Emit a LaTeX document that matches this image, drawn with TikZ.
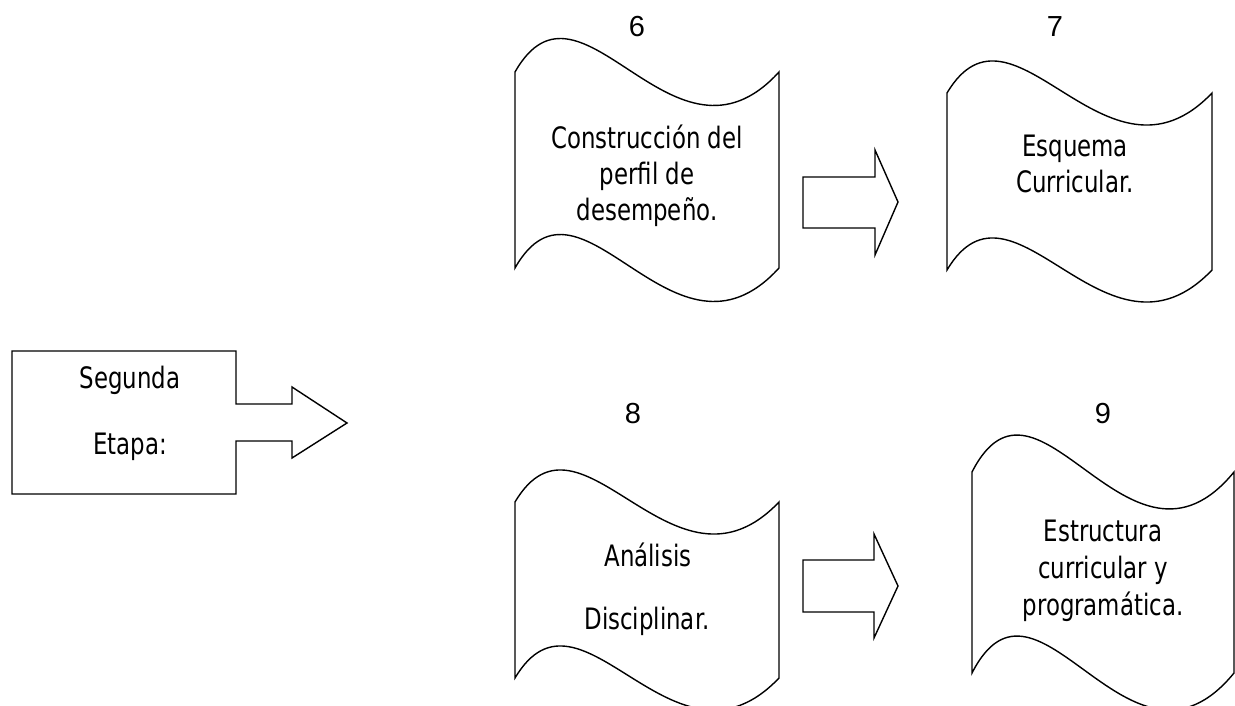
\documentclass[tikz,border=0pt]{standalone}
\usepackage{fontspec}
\newfontfamily\tahomaf[FakeStretch=0.775]{DejaVu Sans}
\newfontfamily\arialf{Liberation Sans}
\tikzset{
  outline/.style={draw=black, line width=1.4pt, line join=miter, fill=white},
  txt/.style={anchor=base, inner sep=0pt, font=\tahomaf\fontsize{29.5}{34}\selectfont},
  num/.style={anchor=base, inner sep=0pt, font=\arialf\fontsize{29}{34}\selectfont},
}
% tape shape: L, R, ytop, ybottom, k
\newcommand\tapeshape[5]{%
  \path[outline] (#1,#3)
    .. controls ({#1+0.25*(#2-#1)},{#3-#5}) and ({#1+0.6*(#2-#1)},{#3+#5}) .. (#2,#3)
    -- (#2,#4)
    .. controls ({#1+0.6*(#2-#1)},{#4+#5}) and ({#1+0.25*(#2-#1)},{#4-#5}) .. (#1,#4)
    -- cycle;}
\begin{document}
\begin{tikzpicture}[x=1pt, y=-1pt]
\useasboundingbox (0,0) rectangle (1235,706);
\clip (0,0) rectangle (1235,706);
% left callout arrow
\path[outline] (12,351) -- (236,351) -- (236,404) -- (292,404) -- (292,387) -- (347,423)
  -- (292,458) -- (292,441) -- (236,441) -- (236,494) -- (12,494) -- cycle;
\node[txt] (seg) at (130,388) {Segunda};
\node[txt] (eta) at (130,454) {Etapa:};
% tapes
\tapeshape{515}{779}{72}{268}{116}
\tapeshape{947}{1212}{93}{270}{111}
\tapeshape{515}{779}{502}{678}{111}
\tapeshape{972}{1234}{472}{673}{128}
% block arrows
\path[outline] (803,177) -- (875,177) -- (875,150) -- (898,202) -- (875,255) -- (875,228) -- (803,228) -- cycle;
\path[outline] (803,560) -- (874,560) -- (874,534) -- (898,586) -- (874,638) -- (874,612) -- (803,612) -- cycle;
% numbers
\node[num] (n6) at (637,37) {6};
\node[num] (n7) at (1055,37) {7};
\node[num] (n8) at (633,423) {8};
\node[num] (n9) at (1103,423) {9};
% texts
\node[txt] (t6a) at (647,149) {Construcción del};
\node[txt] (t6b) at (647,185) {perfil de};
\node[txt] (t6c) at (647,221) {desempeño.};
\node[txt] (t7a) at (1075,157) {Esquema};
\node[txt] (t7b) at (1075,193) {Curricular.};
\node[txt] (t8a) at (648,566) {Análisis};
\node[txt] (t8b) at (647,629) {Disciplinar.};
\node[txt] (t9a) at (1103,541) {Estructura};
\node[txt] (t9b) at (1103,578) {curricular y};
\node[txt] (t9c) at (1103,615) {programática.};
\end{tikzpicture}
\end{document}
